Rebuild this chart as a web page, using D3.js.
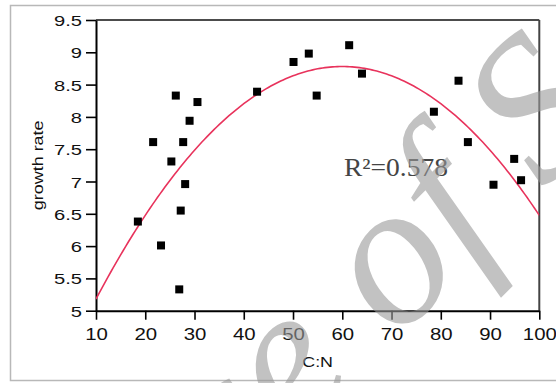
<!DOCTYPE html>
<html>
<head>
<meta charset="utf-8">
<script src="https://cdn.jsdelivr.net/npm/d3@7"></script>
<style>
  body { margin: 0; background: #fff; }
  svg { display: block; }
</style>
</head>
<body>
<div id="chart"></div>
<script>
// values
const cn = [26.2, 30.6, 29.0, 21.6, 27.7, 25.3, 28.1, 27.2, 18.5, 23.2, 26.9,
  42.7, 50.1, 53.2, 61.4, 64.0, 54.8, 83.6, 78.6, 85.5, 94.9, 96.3, 90.7];
const growth = [8.33, 8.23, 7.94, 7.61, 7.61, 7.31, 6.96, 6.55, 6.38, 6.01, 5.33,
  8.39, 8.85, 8.98, 9.11, 8.67, 8.33, 8.56, 8.08, 7.61, 7.35, 7.02, 6.95];
const xTickValues = [10, 20, 30, 40, 50, 60, 70, 80, 90, 100];
const yTickValues = [5, 5.5, 6, 6.5, 7, 7.5, 8, 8.5, 9, 9.5];
const fitCoef = [3.596, 0.1728, -0.00144]; // c, b, a of the red quadratic
const fitLabel = 'R\u00b2=0.578';
const xTitle = 'C:N';
const yTitle = 'growth rate';
const watermark = 'ce of Sc';

const width = 556;
const height = 383;
const margin = { top: 20, right: 16.7, bottom: 72.3, left: 96 };

const svg = d3.select('#chart')
  .append('svg')
  .attr('width', width)
  .attr('height', height);

// grey frame round the figure
svg.append('rect')
  .attr('x', 10.5).attr('y', 5.5)
  .attr('width', 600).attr('height', 375)
  .attr('fill', 'none')
  .attr('stroke', '#b8b8b8')
  .attr('stroke-width', 1.5);

const x = d3.scaleLinear().domain([10, 100]).range([margin.left, width - margin.right]);
const y = d3.scaleLinear().domain([5, 9.5]).range([height - margin.bottom, margin.top]);

// top and right side of the box
svg.append('line')
  .attr('x1', x(10)).attr('x2', x(100))
  .attr('y1', y(9.5)).attr('y2', y(9.5))
  .attr('stroke', '#111').attr('stroke-width', 1.6);
svg.append('line')
  .attr('x1', x(100)).attr('x2', x(100))
  .attr('y1', y(9.5)).attr('y2', y(5))
  .attr('stroke', '#444').attr('stroke-width', 2);

const xAxis = svg.append('g')
  .attr('transform', `translate(0,${y(5)})`)
  .call(d3.axisBottom(x).tickValues(xTickValues).tickSize(9).tickSizeOuter(0).tickFormat(d => d));

xAxis.selectAll('text')
  .attr('y', 29).attr('dy', 0)
  .attr('transform', 'scale(1.2,1)')
  .style('font-family', 'Liberation Sans, Arial, sans-serif')
  .style('font-size', '17px')
  .attr('fill', '#111');

const yAxis = svg.append('g')
  .attr('transform', `translate(${x(10)},0)`)
  .call(d3.axisLeft(y).tickValues(yTickValues).tickSize(10).tickSizeOuter(0).tickFormat(d => d));

yAxis.selectAll('text')
  .attr('x', -14 / 1.3)
  .attr('dy', '0.36em')
  .attr('transform', 'scale(1.3,1)')
  .style('font-family', 'Liberation Sans, Arial, sans-serif')
  .style('font-size', '15.5px')
  .attr('fill', '#111');

svg.selectAll('.domain').attr('stroke', '#000').attr('stroke-width', 2);
svg.selectAll('.tick line').attr('stroke', '#000').attr('stroke-width', 1.6);

// axis titles
svg.append('text')
  .attr('transform', `translate(${x(55)},367) scale(1.15,1)`)
  .attr('text-anchor', 'middle')
  .style('font-family', 'Liberation Sans, Arial, sans-serif')
  .style('font-size', '15.5px')
  .attr('fill', '#111')
  .text(xTitle);

svg.append('text')
  .attr('transform', `translate(43,${(y(5) + y(9.5)) / 2}) rotate(-90) scale(1.2,1)`)
  .attr('text-anchor', 'middle')
  .style('font-family', 'Liberation Sans, Arial, sans-serif')
  .style('font-size', '15px')
  .attr('fill', '#111')
  .text(yTitle);

// quadratic fit
svg.append('clipPath').attr('id', 'plot-clip')
  .append('rect')
  .attr('x', x(10)).attr('y', y(9.5))
  .attr('width', x(100) - x(10)).attr('height', y(5) - y(9.5));

const fit = v => fitCoef[0] + fitCoef[1] * v + fitCoef[2] * v * v;
const line = d3.line()
  .x(d => x(d))
  .y(d => y(fit(d)));

svg.append('path')
  .datum(d3.range(10, 100.01, 0.5))
  .attr('clip-path', 'url(#plot-clip)')
  .attr('d', line)
  .attr('fill', 'none')
  .attr('stroke', '#e8335c')
  .attr('stroke-width', 1.6);

// points
const pts = cn.map((v, i) => ({ cn: v, g: growth[i] }));
svg.selectAll('rect.pt')
  .data(pts)
  .join('rect')
  .attr('class', 'pt')
  .attr('x', d => x(d.cn) - 4)
  .attr('y', d => y(d.g) - 4)
  .attr('width', 8)
  .attr('height', 8)
  .attr('fill', '#000');

svg.append('text')
  .attr('transform', 'translate(344,176) scale(1.1,1)')
  .style('font-family', 'Liberation Serif, Times New Roman, serif')
  .style('font-size', '25px')
  .attr('fill', '#444')
  .text(fitLabel);

// diagonal watermark over the chart
svg.append('text')
  .attr('transform', 'translate(231,506) rotate(-45)')
  .style('font-family', 'Liberation Serif, Times New Roman, serif')
  .style('font-style', 'italic')
  .style('font-size', '205px')
  .attr('fill', '#9a9a9a')
  .attr('opacity', 0.6)
  .text(watermark);
</script>
</body>
</html>
